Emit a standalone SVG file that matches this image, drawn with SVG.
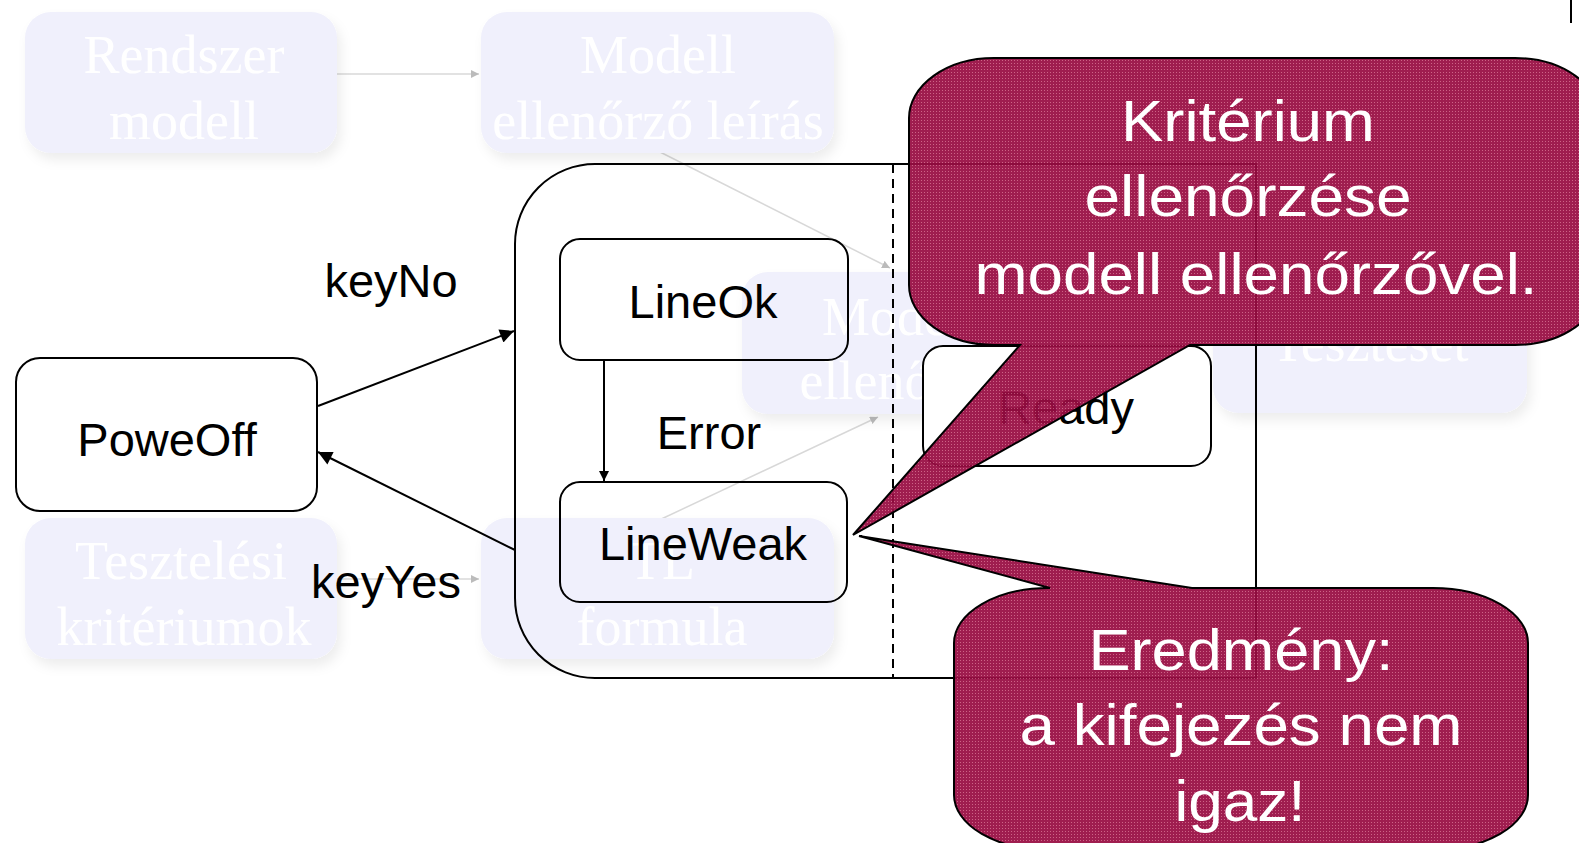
<svg xmlns="http://www.w3.org/2000/svg" width="1579" height="843" viewBox="0 0 1579 843">
<defs>
<filter id="soft" x="-10%" y="-10%" width="125%" height="130%">
<feDropShadow dx="4" dy="7" stdDeviation="6" flood-color="#000" flood-opacity="0.07"/>
</filter>
<pattern id="hatch" width="3" height="3" patternUnits="userSpaceOnUse">
<rect width="3" height="3" fill="#980C42"/>
<rect width="1" height="1" fill="#C9577D"/>
</pattern>
<marker id="arr" viewBox="0 0 10 10" refX="10" refY="5" markerWidth="10" markerHeight="10" markerUnits="userSpaceOnUse" orient="auto">
<path d="M0,0 L10,5 L0,10 Z" fill="#000"/>
</marker>
<marker id="arrBig" viewBox="0 0 10 10" refX="10" refY="5" markerWidth="18" markerHeight="14" markerUnits="userSpaceOnUse" orient="auto">
<path d="M0,0 L10,5 L0,10 Z" fill="#000"/>
</marker>
<marker id="farr" viewBox="0 0 10 10" refX="10" refY="5" markerWidth="8" markerHeight="8" markerUnits="userSpaceOnUse" orient="auto">
<path d="M0,0 L10,5 L0,10 Z" fill="#bbb"/>
</marker>
</defs>
<style>
.fbox{fill:#F0F0FC;filter:url(#soft)}
.ftxt{font-family:"Liberation Serif",serif;font-size:54px;fill:#fff;text-anchor:middle}
.fline{stroke:#d8d8d8;stroke-width:1.5;fill:none;marker-end:url(#farr)}
.state{fill:none;stroke:#000;stroke-width:2}
.lbl{font-family:"Liberation Sans",Arial,sans-serif;font-size:47px;fill:#000;text-anchor:middle}
.conn{stroke:#000;stroke-width:2;fill:none}
.callout{fill:url(#hatch);fill-opacity:0.93;stroke:#000;stroke-width:2}
.ctxt{font-family:"Liberation Sans",Arial,sans-serif;font-size:58px;fill:#fff;text-anchor:middle}
</style>
<rect width="1579" height="843" fill="#fff"/>

<g id="background-flow">
<g id="bg-connectors">
<line class="fline" x1="337" y1="74" x2="479" y2="74"/>
<line class="fline" x1="337" y1="579" x2="479" y2="579"/>
<line class="fline" x1="660" y1="152" x2="890" y2="268"/>
<line class="fline" x1="655" y1="522" x2="878" y2="417"/>
</g>
<g id="bg-rendszer"><rect class="fbox" x="25" y="12" width="312" height="141" rx="26"/>
<text class="ftxt" x="184" y="73">Rendszer</text><text class="ftxt" x="184" y="139">modell</text></g>
<g id="bg-leiras"><rect class="fbox" x="481" y="12" width="353" height="141" rx="26"/>
<text class="ftxt" x="658" y="73">Modell</text><text class="ftxt" x="658" y="139" font-size="53">ellenőrző leírás</text></g>
<g id="bg-kriteriumok"><rect class="fbox" x="25" y="518" width="312" height="141" rx="26"/>
<text class="ftxt" x="181" y="579">Tesztelési</text><text class="ftxt" x="184" y="645">kritériumok</text></g>
<g id="bg-tl"><rect class="fbox" x="481" y="518" width="353" height="141" rx="26"/>
<text class="ftxt" x="662" y="579">TL</text><text class="ftxt" x="662" y="645">formula</text></g>
<g id="bg-ellenorzo"><rect class="fbox" x="742" y="272" width="316" height="142" rx="26"/>
<text class="ftxt" x="900" y="335">Modell</text><text class="ftxt" x="900" y="399">ellenőrző</text></g>
<g id="bg-teszteset"><rect class="fbox" x="1213" y="272" width="314" height="141" rx="26"/>
<text class="ftxt" x="1370" y="361">Teszteset</text></g>
</g>

<g id="container">
<path class="state" d="M595,164 H1256 V678 H595 A80 80 0 0 1 515 598 V244 A80 80 0 0 1 595 164 Z"/>
<line x1="893" y1="164" x2="893" y2="678" stroke="#000" stroke-width="2" stroke-dasharray="9,6"/>
</g>

<g id="node-poweoff"><rect class="state" x="16" y="358" width="301" height="153" rx="24"/>
<text class="lbl" x="167" y="456">PoweOff</text></g>
<g id="node-lineok"><rect class="state" x="560" y="239" width="288" height="121" rx="20"/>
<text class="lbl" x="703" y="318">LineOk</text></g>
<g id="node-lineweak"><rect class="state" x="560" y="482" width="287" height="120" rx="20"/>
<text class="lbl" x="703" y="560">LineWeak</text></g>
<g id="node-ready"><rect class="state" x="923" y="346" width="288" height="120" rx="20" style="fill:#fff"/>
<text class="lbl" x="1066" y="424">Ready</text></g>

<g id="connectors">
<line class="conn" x1="318" y1="406" x2="514" y2="331" marker-end="url(#arrBig)"/>
<line class="conn" x1="515" y1="550" x2="318" y2="452" marker-end="url(#arrBig)"/>
<line class="conn" x1="604" y1="360" x2="604" y2="481" marker-end="url(#arr)"/>
<text class="lbl" x="391" y="297">keyNo</text>
<text class="lbl" x="386" y="598">keyYes</text>
<text class="lbl" x="709" y="449">Error</text>
</g>

<line x1="1571" y1="0" x2="1571" y2="23" stroke="#000" stroke-width="2"/>

<g id="callout-kriterium">
<path class="callout" d="M994,58 H1515 A85 60 0 0 1 1600 118 V285 A85 60 0 0 1 1515 345 H1190 L853 535 L1020 345 H994 A85 60 0 0 1 909 285 V118 A85 60 0 0 1 994 58 Z"/>
<text class="ctxt" x="1248" y="141" textLength="254" lengthAdjust="spacingAndGlyphs">Kritérium</text>
<text class="ctxt" x="1248" y="216" textLength="327" lengthAdjust="spacingAndGlyphs">ellenőrzése</text>
<text class="ctxt" x="1256" y="294" textLength="563" lengthAdjust="spacingAndGlyphs">modell ellenőrzővel.</text>
</g>

<g id="callout-eredmeny">
<path class="callout" d="M954,643 A95 55 0 0 1 1049 588 H1050 L859 536 L1192 588 H1433 A95 55 0 0 1 1528 643 V795 A95 55 0 0 1 1433 850 H1049 A95 55 0 0 1 954 795 Z"/>
<text class="ctxt" x="1241" y="670" textLength="305" lengthAdjust="spacingAndGlyphs">Eredmény:</text>
<text class="ctxt" x="1241" y="745" textLength="443" lengthAdjust="spacingAndGlyphs">a kifejezés nem</text>
<text class="ctxt" x="1240" y="821" textLength="131" lengthAdjust="spacingAndGlyphs">igaz!</text>
</g>
</svg>
